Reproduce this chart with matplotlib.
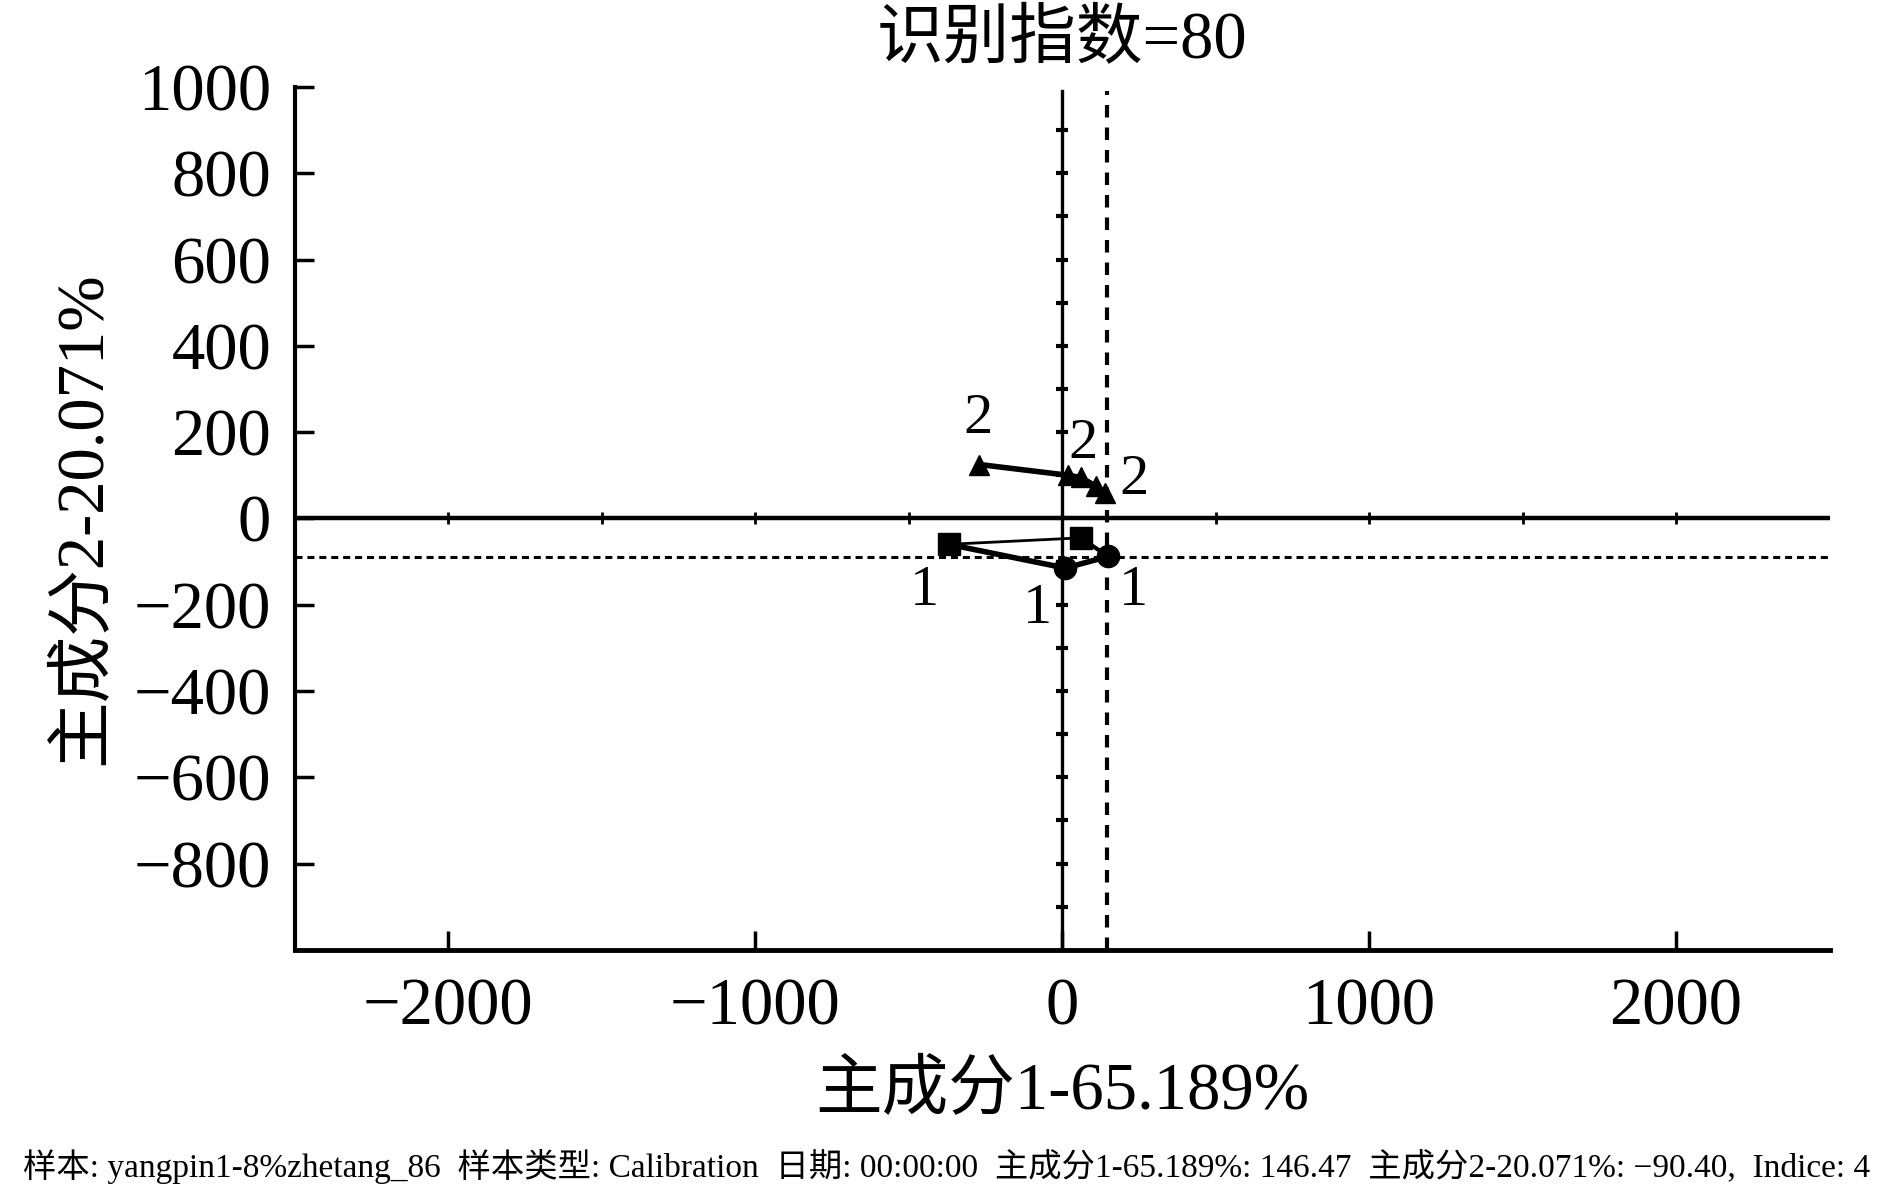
import matplotlib
matplotlib.use("Agg")
import matplotlib.pyplot as plt
import numpy as np

plt.rcParams['font.family'] = ['Liberation Serif', 'Noto Sans CJK SC', 'DejaVu Sans']
plt.rcParams['axes.unicode_minus'] = True

# sample group 1 (closed outline)
g1_x = [-370, 10, 150, 60, -370]
g1_y = [-60, -115, -88, -45, -60]
g1_mark = ['s', 'o', 'o', 's']
# sample group 2
g2_x = [-270, 20, 60, 110, 140]
g2_y = [125, 100, 95, 75, 60]

# label positions for the group numbers
lab1_x = [-448, -80, 233]
lab1_y = [-168, -210, -168]
lab2_x = [-275, 68, 233]
lab2_y = [230, 173, 88]

# current sample
cur_pc1 = 146.47
cur_pc2 = -90.40

xticks = [-2000, -1000, 0, 1000, 2000]
yticks = [1000, 800, 600, 400, 200, 0, -200, -400, -600, -800]

fig = plt.figure(figsize=(18.9, 11.91), dpi=100)
ax = fig.add_axes([0.156, 0.2024, 0.812, 0.7246])

# centre cross with its small ticks
ax.plot([-2500, 2500], [0, 0], color='black', lw=3.2, zorder=2)
xt = np.arange(-2500, 2500, 500)
ax.plot(xt, np.zeros(len(xt)), ls='none', marker='|',
        ms=9, mew=2, color='black', zorder=2)
ax.plot([0, 0], [-1000, 990], color='black', lw=2.4, zorder=2)
yt = np.arange(-900, 1000, 100)
ax.plot(np.zeros(len(yt)), yt, ls='none', marker='_',
        ms=9, mew=3, color='black', zorder=2)

# dashed cross for current sample
ax.axvline(cur_pc1, ymin=0, ymax=0.995, color='black', lw=3,
           dashes=(3.0, 2.4), zorder=3)
ax.axhline(cur_pc2, color='black', lw=2.2, dashes=(2.3, 1.6), zorder=3)

# group 1
ax.plot(g1_x[:2], g1_y[:2], color='black', lw=4, zorder=4)
ax.plot(g1_x[1:3], g1_y[1:3], color='black', lw=4, zorder=4)
ax.plot(g1_x[2:4], g1_y[2:4], color='black', lw=3, zorder=4)
ax.plot(g1_x[3:5], g1_y[3:5], color='black', lw=2, zorder=4)
for i in range(4):
    ax.plot(g1_x[i], g1_y[i], marker=g1_mark[i], ms=16, color='black', zorder=5)

# group 2
ax.plot(g2_x, g2_y, color='black', lw=4, zorder=4)
ax.plot(g2_x, g2_y, ls='none', marker='^', ms=14, color='black', zorder=5)

for x, y in zip(lab1_x, lab1_y):
    ax.text(x, y, '1', fontsize=42, ha='center', va='center')
for x, y in zip(lab2_x, lab2_y):
    ax.text(x, y, '2', fontsize=42, ha='center', va='center')

ax.set_xlim(-2500, 2500)
ax.set_ylim(-1000, 1000)
ax.set_xticks(xticks)
ax.set_yticks(yticks)
ax.set_xticklabels(['\u22122000', '\u22121000', '0', '1000', '2000'])
ax.set_yticklabels([str(v).replace('-', '\u2212') for v in yticks])
ax.tick_params(direction='in', length=14, width=2.5, labelsize=48, pad=17)
ax.tick_params(axis='x', pad=20)

for s in ['top', 'right']:
    ax.spines[s].set_visible(False)
ax.spines['left'].set_linewidth(3)
ax.spines['bottom'].set_linewidth(3.5)

ax.set_xlabel('主成分1-65.189%', fontsize=48, labelpad=16)
ax.set_ylabel('主成分2-20.071%', fontsize=48, labelpad=14)
ax.set_title('识别指数=80', fontsize=48, pad=21)

fig.text(0.012, 0.012,
         '样本: yangpin1-8%zhetang_86  样本类型: Calibration  日期: 00:00:00  '
         '主成分1-65.189%: 146.47  主成分2-20.071%: \u221290.40,  Indice: 4',
         fontsize=24, ha='left', va='baseline')

fig.savefig('out.png', dpi=100)
